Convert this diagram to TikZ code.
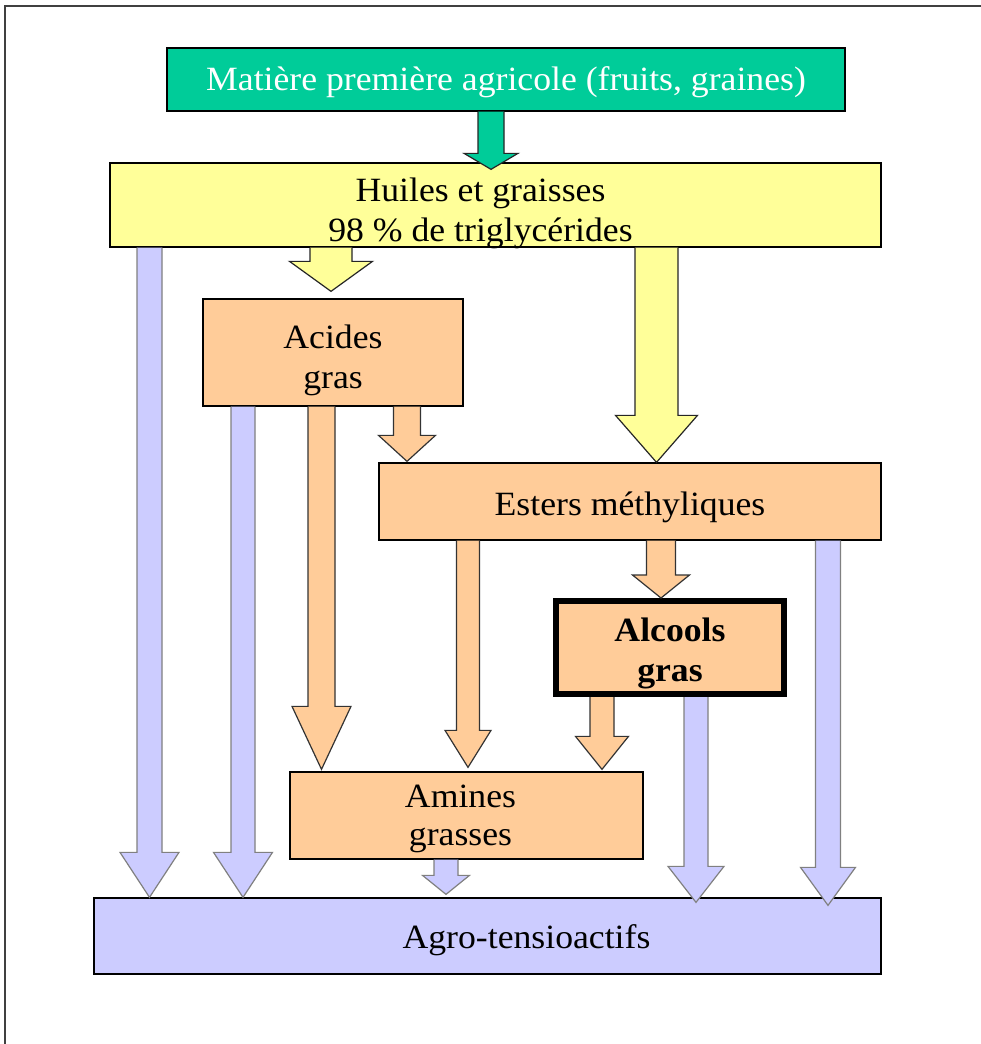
\documentclass[tikz,border=0pt]{standalone}
\usepackage{fontspec}
\usepackage{graphicx}
\setmainfont{Liberation Serif}
\usetikzlibrary{calc}
\definecolor{cgreen}{HTML}{00CC99}
\definecolor{cyellow}{HTML}{FFFF99}
\definecolor{corange}{HTML}{FFCC99}
\definecolor{cblue}{HTML}{CCCCFF}
\newcommand\wt[1]{\scalebox{1.05}[1]{#1}}
% #1 style, #2 x, #3 from anchor, #4 to anchor, #5 tip overshoot, #6 shaft half width, #7 head half width, #8 head length
\newcommand\fatarrow[8]{%
  \path (#2,0 |- #3) coordinate (fas) ($(#2,0 |- #4)+(0,#5)$) coordinate (fae);
  \filldraw[#1] let \p1=(fas), \p2=(fae) in
    (\x1-#6pt,\y1) -- (\x1-#6pt,\y2+#8pt) -- (\x1-#7pt,\y2+#8pt) -- (\x1,\y2)
    -- (\x1+#7pt,\y2+#8pt) -- (\x1+#6pt,\y2+#8pt) -- (\x1+#6pt,\y1);
}
\begin{document}
\begin{tikzpicture}[x=1pt,y=-1pt,
  txt/.style={font=\fontsize{34}{40}\selectfont, align=center},
  box/.style={draw=black, line width=1.3pt, inner sep=0pt},
  T/.style={label={[txt,yshift=-8pt]center:#1}},
  arr/.style={line width=1.2pt, line join=miter},
  garr/.style={arr, fill=cgreen, draw=black!85},
  yarr/.style={arr, fill=cyellow, draw=black!85},
  oarr/.style={arr, fill=corange, draw=black!80},
  barr/.style={arr, fill=cblue, draw=black!50}]
\useasboundingbox (0,0) rectangle (981,1044);
\fill[white] (0,0) rectangle (981,1044);
\draw[line width=2pt, black!75] (981,6) -- (5,6) -- (5,1044);

% boxes
\node[box, fill=cgreen, minimum width=678pt, minimum height=63pt,
  label={[txt,text=white,yshift=-3pt]center:\wt{Matière première agricole (fruits, graines)}}] (green) at (506,79.5) {};
\node[box, fill=cyellow, minimum width=771pt, minimum height=84pt,
  label={[txt, xshift=-15pt, yshift=-8pt]center:\wt{Huiles et graisses}\\\wt{98 \% de triglycérides}}] (yellow) at (495.5,205) {};
\node[box, fill=corange, minimum width=260pt, minimum height=107pt,
  T={\wt{Acides}\\\wt{gras}}] (acides) at (333,352.5) {};
\node[box, fill=corange, minimum width=502pt, minimum height=77pt,
  label={[txt,yshift=-6pt]center:\wt{Esters méthyliques}}] (esters) at (630,501.5) {};
\node[box, fill=corange, line width=6pt, minimum width=228pt, minimum height=93pt,
  label={[txt,yshift=-6pt]center:\textbf{\wt{Alcools}}\\\textbf{\wt{gras}}}] (alcools) at (670,647.5) {};
\node[box, fill=corange, minimum width=353pt, minimum height=87pt,
  label={[txt, font=\fontsize{34}{38}\selectfont, xshift=-6pt, yshift=-3pt]center:\wt{Amines}\\\wt{grasses}}] (amines) at (466.5,815.5) {};
\node[box, fill=cblue, minimum width=787pt, minimum height=76pt,
  label={[txt, xshift=39pt, yshift=-4pt]center:\wt{Agro-tensioactifs}}] (agro) at (487.5,936) {};

% arrows
\fatarrow{garr}{491}{green.south}{yellow.north}{7}{13}{27}{16}
\fatarrow{yarr}{331}{yellow.south}{acides.north}{-7}{21}{41.5}{30}
\fatarrow{yarr}{656.5}{yellow.south}{esters.north}{0}{21.5}{41}{47}
\fatarrow{barr}{149.5}{yellow.south}{agro.north}{0}{12.5}{29.5}{45}
\fatarrow{barr}{243}{acides.south}{agro.north}{0}{12}{29.5}{45}
\fatarrow{oarr}{321.5}{acides.south}{amines.north}{-2}{13.5}{29.5}{63}
\fatarrow{oarr}{407}{acides.south}{esters.north}{-1}{13.5}{28.5}{26}
\fatarrow{oarr}{468}{esters.south}{amines.north}{-4}{11.5}{23}{37}
\fatarrow{oarr}{661}{esters.south}{alcools.north}{0}{14.5}{28.5}{23}
\fatarrow{barr}{828}{esters.south}{agro.north}{8}{12.5}{27.5}{38}
\fatarrow{oarr}{602}{alcools.south}{amines.north}{-2}{12}{26.5}{33}
\fatarrow{barr}{696}{alcools.south}{agro.north}{5}{12}{28}{36}
\fatarrow{barr}{446}{amines.south}{agro.north}{-3}{12}{23.5}{19}
\end{tikzpicture}
\end{document}
